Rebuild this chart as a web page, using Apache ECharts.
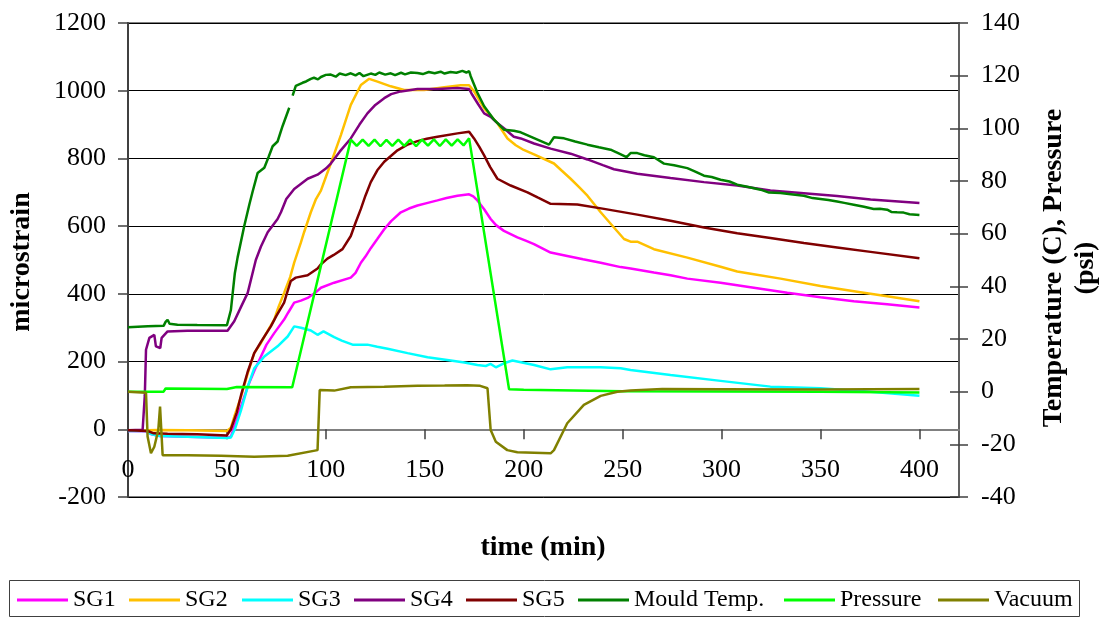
<!DOCTYPE html>
<html>
<head>
<meta charset="utf-8">
<script src="https://cdn.jsdelivr.net/npm/echarts@6/dist/echarts.min.js"></script>
<style>
html,body{margin:0;padding:0;background:#fff;}
#chart{width:1112px;height:619px;}
</style>
</head>
<body>
<div id="chart"></div>
<script>
// ---- data: [time (min), value] ----
const seriesNames = ['SG1','SG2','SG3','SG4','SG5','Mould Temp.','Pressure','Vacuum'];

const sg1 = [[0,-5],[9,-6],[12,-15],[16,-20],[30,-22],[50,-25],[52,-22],[55.4,37],[60.5,126],[64,175],[67.2,215],[70,250],[73.9,284],[78.9,324],[81,345],[84,374],[87.4,380],[90.8,388],[95,405],[97.5,418],[104.2,433],[112.6,448],[115,462],[117.7,492],[120,510],[122.7,535],[126,562],[129.5,591],[133,615],[137.9,641],[142,652],[146.3,661],[151,668],[156.4,676],[161,683],[166.5,690],[172.4,694],[174.5,688],[176.6,676],[180,650],[183.3,621],[186,603],[190,586],[196.8,567],[201,557],[205.2,547],[213.6,522],[222,512],[230,502],[238.9,492],[249,479],[254,475],[265.8,463],[274.2,455],[282.7,445],[299.5,433],[316.3,418],[333.2,403],[350,390],[366.8,378],[383.7,369],[400,360]];

const sg2 = [[0,-3],[10,-3],[15,-2],[30,-3],[50,-5],[52,5],[53.7,37],[57.1,96],[60.5,165],[63.8,225],[67.2,255],[70,285],[73.9,324],[76,360],[78.9,403],[82,450],[84,492],[87.4,552],[89,582],[92.4,641],[95,680],[97.5,705],[100,745],[102.5,785],[107.6,869],[112.6,958],[117.7,1017],[121.9,1035],[126.1,1027],[132.8,1013],[139.6,1002],[149.7,1002],[159.8,1010],[168.2,1016],[172.4,1016],[174.9,998],[180,948],[186.7,904],[191.8,859],[196,839],[200,825],[205.2,812],[215.3,785],[219,765],[223.7,740],[228,715],[232.2,690],[238.9,641],[245.6,596],[250.7,562],[254,554],[257.4,554],[265.8,532],[282.7,507],[299.5,480],[307.9,466],[316.3,458],[329.8,445],[350,423],[370.2,405],[383.7,393],[400,378]];

const sg3 = [[0,-5],[9,-5],[12,-15],[16,-20],[30,-22],[50,-26],[52,-24],[54,0],[57.1,56],[60.5,126],[63.8,180],[68.9,215],[75.6,245],[80.7,274],[84,304],[87.4,300],[92.4,292],[95.8,279],[98.8,289],[104.2,272],[108,262],[113.5,250],[121,250],[126,244],[131.2,238],[141.3,225],[151.4,213],[163.1,203],[170,197],[176.6,190],[180.8,187],[183.3,193],[185.9,183],[190,195],[194.3,203],[205.2,190],[213.6,177],[222,183],[238.9,183],[249,180],[254,175],[274.2,160],[299.5,143],[324.7,126],[350,121],[375.3,111],[400,99]];

const sg4 = [[0,-3],[7.4,-1],[8.5,100],[9.1,235],[10.8,270],[13.3,279],[14.1,245],[16.3,240],[17,270],[20,289],[30,291],[50.3,291],[53.7,319],[57,360],[60.5,403],[64.6,500],[67.2,540],[70.6,582],[75.6,621],[77.3,641],[80,680],[84,710],[90.8,740],[95.8,752],[100,770],[102.5,785],[107,820],[112.6,859],[117,900],[121,933],[125,958],[129.5,978],[133,990],[137.9,998],[146.3,1005],[156.4,1005],[166.5,1008],[172.4,1005],[174,988],[177,960],[180,933],[183.3,923],[186,908],[190,889],[195,864],[198.5,859],[205.2,844],[213.6,829],[223.7,814],[232.2,797],[240,780],[245.6,768],[257.4,755],[274.2,742],[291.1,730],[307.9,720],[324.7,705],[341.6,697],[358.4,689],[375.3,679],[400,668]];

const sg5 = [[0,-3],[10,-5],[13,-12],[20,-13],[35,-15],[50,-18],[52,0],[55,50],[57.1,100],[60.5,170],[63.8,225],[67.2,258],[72.2,304],[75,335],[78.9,374],[80.5,405],[82.3,438],[84.8,448],[90.8,455],[95.8,475],[97.5,487],[100.8,504],[104,515],[108.4,532],[112.6,571],[115,610],[117.7,651],[120,690],[122.7,730],[126,765],[129.5,790],[136.2,824],[141,840],[146.3,851],[151,858],[156.4,864],[166.5,874],[172.4,879],[174.9,859],[177.5,835],[180,809],[183,775],[186.7,740],[193.4,720],[201.9,700],[207,685],[213.6,666],[227.1,664],[240.6,651],[257.4,634],[274.2,616],[291.1,596],[307.9,579],[324.7,565],[341.6,550],[358.4,537],[375.3,524],[400,505]];

const mouldTemp = [[0,24.5],[10,24.8],[18,25],[19,26.5],[20,27.3],[21,25.8],[25,25.4],[35,25.3],[50,25.2],[52,31],[54,45],[55.4,51],[58.7,62.7],[61.3,71],[63,76],[65.5,83],[68.9,85],[71,89],[73.1,93.2],[75.6,95],[78.1,100.8],[81.5,107.8],[82.4,'-'],[83.2,112.4],[84.8,116.1],[88.2,117.3],[90,117.8],[92.4,118.8],[94,119.2],[96,118.6],[97.5,119.5],[100,120.3],[102.5,120.4],[105,119.6],[107,120.8],[110,120.2],[112.6,120.9],[115,120.1],[117,121],[119,119.8],[122.7,120.8],[125,120.3],[127,121.2],[130,120.4],[132.8,120.9],[135,120.2],[138,121.1],[140,120.5],[143,121.2],[146.3,121],[149,120.6],[152,121.4],[155,120.9],[158,121.5],[160,120.8],[163,121.4],[166,121.1],[169,121.8],[171,121.2],[172.4,121.7],[173.2,119.8],[176.6,113.5],[180,108.4],[185,103.3],[190,99.5],[195,99.1],[198.5,98.5],[205.2,96.3],[212.8,93.8],[215.3,96.6],[220.4,96.2],[226,95],[232.2,93.8],[238,92.8],[243.9,91.9],[248,90.5],[252,89.1],[254,90.6],[257.4,90.6],[261,89.8],[265.8,89],[270.9,86.6],[276,86],[282.7,84.9],[287,83.5],[291.1,82],[295,81.5],[299.5,80.5],[304,79.8],[307.9,78.6],[313,77.8],[319.7,76.7],[324,75.6],[329.8,75.4],[335,75],[341.6,74.4],[346,73.5],[350,73.2],[354,72.8],[358.4,72.2],[362,71.7],[366.8,71],[372,70.2],[376.9,69.4],[380,69.5],[383.7,69.1],[386,68.2],[388.7,68.1],[392,68],[395,67.4],[400,67.1]];

const pressure = [[0,0],[18,0],[19,1.2],[20,1.3],[50,1],[55,1.8],[83,1.7],[84,2],[112.6,95.7],[115.6,93.3],[118.6,95.7],[121.6,93.3],[124.6,95.7],[127.6,93.2],[130.6,95.6],[133.6,93.3],[136.6,95.7],[139.6,93.3],[142.6,95.7],[145.6,93.2],[148.6,95.7],[151.6,93.4],[154.6,95.8],[157.6,93.3],[160.6,95.8],[163.6,93.4],[166.6,95.8],[169.6,93.5],[172.4,96.2],[192.6,0.9],[200,0.7],[250,0.2],[300,0.1],[350,0],[400,-0.3]];

const vacuum = [[0,0],[9.1,-0.4],[9.9,-17],[11.6,-23.4],[13.3,-20.9],[15.3,-14.6],[16.2,-5.7],[17,-17],[17.5,-24.1],[30,-24.1],[47,-24.3],[63.8,-24.7],[80.7,-24.3],[95.8,-22.2],[96.9,0.6],[104.2,0.4],[112.6,1.7],[129.5,1.9],[146.3,2.2],[160,2.3],[171.5,2.4],[178,2.2],[181.7,1.3],[183.3,-14.6],[185.9,-19],[191.7,-22.2],[196.8,-23],[213.6,-23.4],[215.3,-22.2],[222,-12],[230.4,-5],[238.9,-1.6],[247.3,0],[254,0.4],[270,1],[300,0.9],[350,0.8],[400,1]];

const seriesData = [sg1, sg2, sg3, sg4, sg5, mouldTemp, pressure, vacuum];
const seriesAxis = [0,0,0,0,0,1,1,1];
const seriesColors = ['#FF00FF','#FFC000','#00FFFF','#800080','#800000','#008000','#00FF00','#808000'];

// axis ranges / tick labels
const xRange = [0, 420], xStep = 50, xLastLabel = 400;
const yLeftRange = [-200, 1200], yLeftStep = 200;
const yRightRange = [-40, 140], yRightStep = 20;
const titles = {left: 'microstrain', right: 'Temperature (C), Pressure\n(psi)', bottom: 'time (min)'};
const legendLeft = [17, 129, 242, 354, 466, 578, 784, 938];

const FONT = '"Liberation Serif", "Times New Roman", serif';
const chart = echarts.init(document.getElementById('chart'), null, {renderer: 'canvas'});

// grid geometry
const GRID_TOP = 23, GRID_BOTTOM = 122, CH = 619;
const plotH = CH - GRID_TOP - GRID_BOTTOM;
// lift the x axis from the plot bottom up to the left axis' zero line
const xAxisOffset = -plotH * (0 - yLeftRange[0]) / (yLeftRange[1] - yLeftRange[0]);

const option = {
  animation: false,
  backgroundColor: '#fff',
  grid: {left: 128, right: 153, top: GRID_TOP, bottom: GRID_BOTTOM, show: true, borderColor: '#808080', borderWidth: 2, containLabel: false},
  xAxis: {
    type: 'value', min: xRange[0], max: xRange[1], interval: xStep,
    position: 'bottom', offset: xAxisOffset,
    axisLine: {show: true, onZero: false, lineStyle: {color: '#808080', width: 2}},
    axisTick: {show: true, inside: false, length: 10, lineStyle: {color: '#404040', width: 1.5}},
    axisLabel: {show: true, margin: 28, fontFamily: FONT, fontSize: 26, color: '#000', showMaxLabel: false,
      formatter: v => (v > xLastLabel ? '' : String(v))},
    splitLine: {show: false}
  },
  yAxis: [
    {
      type: 'value', position: 'left', min: yLeftRange[0], max: yLeftRange[1], interval: yLeftStep,
      axisLine: {show: true, onZero: false, lineStyle: {color: '#404040', width: 2}},
      axisTick: {show: true, inside: false, length: 10, lineStyle: {color: '#404040', width: 1.5}},
      axisLabel: {margin: 22, fontFamily: FONT, fontSize: 26, color: '#000', formatter: v => String(v)},
      splitLine: {show: true, lineStyle: {color: '#000', width: 1}}
    },
    {
      type: 'value', position: 'right', min: yRightRange[0], max: yRightRange[1], interval: yRightStep,
      axisLine: {show: true, onZero: false, lineStyle: {color: '#606060', width: 2}},
      axisTick: {show: true, inside: false, length: 9, lineStyle: {color: '#404040', width: 1.5}},
      axisLabel: {margin: 22, fontFamily: FONT, fontSize: 26, color: '#000', formatter: v => String(v)},
      splitLine: {show: false}
    },
    {
      type: 'value', position: 'right', min: yRightRange[0], max: yRightRange[1], interval: yRightStep,
      axisLine: {show: false, onZero: false},
      axisTick: {show: true, inside: true, length: 9, lineStyle: {color: '#404040', width: 1.5}},
      axisLabel: {show: false},
      splitLine: {show: false}
    }
  ],
  legend: seriesNames.map((n, i) => ({
    data: [n], left: legendLeft[i], top: 588, padding: 0,
    icon: 'rect', itemWidth: 51, itemHeight: 3, itemGap: 0, selectedMode: false,
    textStyle: {fontFamily: FONT, fontSize: 24, color: '#000', padding: [0,0,0,0]}
  })),
  graphic: [
    {type: 'rect', shape: {x: 9.5, y: 580.5, width: 1070, height: 36}, style: {fill: 'none', stroke: '#404040', lineWidth: 1}, silent: true},
    {type: 'text', x: 22, y: 262, rotation: Math.PI / 2,
      style: {text: titles.left, fontFamily: FONT, fontSize: 28, fontWeight: 'bold', fill: '#000', align: 'center', verticalAlign: 'middle'}},
    {type: 'text', x: 1070, y: 268, rotation: Math.PI / 2,
      style: {text: titles.right, fontFamily: FONT, fontSize: 28, fontWeight: 'bold', fill: '#000', align: 'center', verticalAlign: 'middle', lineHeight: 32}},
    {type: 'text', x: 543, y: 548,
      style: {text: titles.bottom, fontFamily: FONT, fontSize: 28, fontWeight: 'bold', fill: '#000', align: 'center', verticalAlign: 'middle'}}
  ],
  series: seriesNames.map((n, i) => ({
    name: n, type: 'line', yAxisIndex: seriesAxis[i], data: seriesData[i],
    symbol: 'none', smooth: false, connectNulls: false,
    lineStyle: {color: seriesColors[i], width: 2.5}, itemStyle: {color: seriesColors[i]},
    z: 2 + i
  }))
};
chart.setOption(option);
</script>
</body>
</html>
